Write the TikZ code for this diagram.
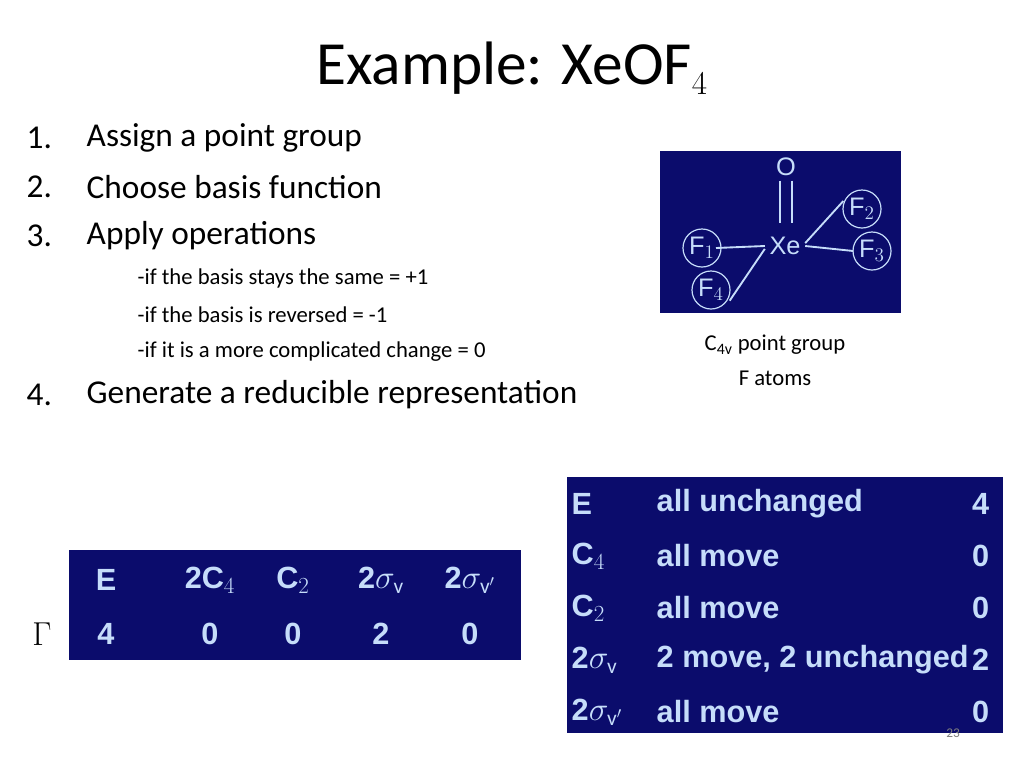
\documentclass[tikz,border=0pt]{standalone}
\usepackage{fontspec}
\setmainfont{Carlito}
\newfontfamily\arialfont{Liberation Sans}
\definecolor{navy}{HTML}{0B0C6C}
\definecolor{pale}{HTML}{C6DDFA}
\tikzset{
  slide/.style={x=0.75pt,y=-0.75pt},
  panel/.style={fill=navy,draw=none},
  item/.style={anchor=west,font=\fontsize{25}{30}\selectfont},
  subitem/.style={anchor=west,font=\fontsize{17}{20}\selectfont},
  cell/.style={text=pale,font=\arialfont\bfseries\fontsize{23}{27}\selectfont},
  atom/.style={text=pale,font=\arialfont\fontsize{19}{22}\selectfont},
  ring/.style={draw=pale,line width=0.9pt,circle,minimum size=28.5pt,inner sep=0pt},
  bond/.style={draw=pale,line width=1.4pt}
}
\begin{document}
\begin{tikzpicture}[slide]
    \useasboundingbox (0,0) rectangle (1024,768);

    % Titel
    \node (title) at (512,68) {\fontsize{46}{50}\selectfont Example: XeOF$_4$};

    % Liste
    \foreach \n/\y/\txt in {1/138/Assign a point group, 2/187/Choose basis function, 3/236/Apply operations, 4/395/Generate a reducible representation}{
        \node[item] (num\n) at (22,\y) {\n.};
        \node[item] (step\n) at (82,\y) {\txt};
    }
    \node[subitem] (sub1) at (133,278) {-if the basis stays the same = +1};
    \node[subitem] (sub2) at (133,315) {-if the basis is reversed = -1};
    \node[subitem] (sub3) at (133,352) {-if it is a more complicated change = 0};

    % Molekuel
    \fill[panel] (660,151) rectangle (901,313);
    \node[atom] (O) at (786,167) {O};
    \node[atom] (Xe) at (785,246) {Xe};
    \node[atom,ring] (F1) at (702,248) {F$_1$};
    \node[atom,ring] (F4) at (711,290) {F$_4$};
    \node[atom,ring] (F2) at (862,209) {F$_2$};
    \node[atom,ring] (F3) at (872,251) {F$_3$};
    \draw[bond] ([xshift=-4.5]O.south) -- ++(0,42);
    \draw[bond] ([xshift=4.5]O.south) -- ++(0,42);
    \draw[bond] (F1.center) ++(14,0) -- (Xe.west);
    \draw[bond] (Xe.east) -- ([xshift=-14]F3.center);
    \draw[bond] ([yshift=-8]Xe.north east) -- ([xshift=-14,yshift=6]F2.center);
    \draw[bond] ([yshift=8]Xe.south west) -- ([xshift=14,yshift=-8]F4.center);

    \node (cap1) at (775,345) {\fontsize{17}{20}\selectfont C$_{\mathrm{4v}}$ point group};
    \node (cap2) at (775,378) {\fontsize{17}{20}\selectfont F atoms};

    % Darstellung Gamma
    \node (gamma) at (42,634) {\fontsize{36}{40}\selectfont$\Gamma$};
    \fill[panel] (69,550) rectangle (521,660);
    \foreach \x/\op/\ch in {106/E/4, 210/2C$_4$/0, 293/C$_2$/0, 381/2$\sigma_{\mathrm{v}}$/2, 470/2$\sigma_{\mathrm{v'}}$/0}{
        \node[cell] at (\x,580) {\op};
        \node[cell] at (\x,634) {\ch};
    }

    % Operationen
    \fill[panel] (567,477) rectangle (1003,733);
    \foreach \y/\op/\what/\ch in {504/E/all unchanged/4, 556/C$_4$/all move/0, 608/C$_2$/all move/0, 660/2$\sigma_{\mathrm{v}}$/{2 move, 2 unchanged}/2, 712/2$\sigma_{\mathrm{v'}}$/all move/0}{
        \node[cell,anchor=west] at (567,\y) {\op};
        \node[cell,anchor=west] at (652,\y) {\what};
        \node[cell,anchor=east] at (994,\y) {\ch};
    }
    \node[text=gray,font=\fontsize{10}{12}\selectfont] (page) at (953,733) {23};
\end{tikzpicture}
\end{document}
